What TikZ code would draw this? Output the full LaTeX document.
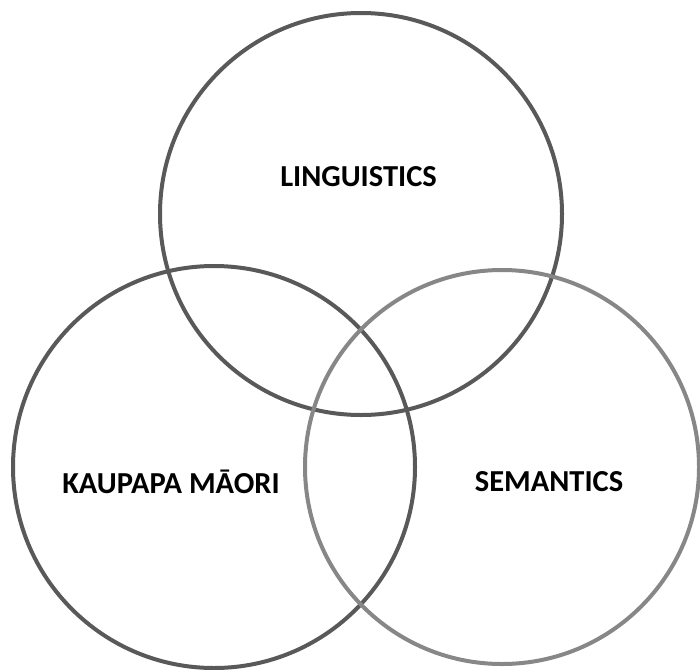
\documentclass[tikz,border=0pt]{standalone}
\usepackage{fontspec}
\setmainfont{Carlito}
\usetikzlibrary{positioning}

\definecolor{ringdark}{HTML}{595959}
\definecolor{ringlight}{HTML}{878787}

\begin{document}
\begin{tikzpicture}[
    x=1pt, y=-1pt,
    ring/.style={
        draw=ringdark,
        line width=4pt
    },
    setlabel/.style={
        font=\fontsize{30.5}{34}\selectfont\bfseries,
        text=black,
        inner sep=0pt
    }
]
    \useasboundingbox (0,0) rectangle (700,669);

    % Circles
    \node[ring, circle, minimum size=402pt, inner sep=0pt] (ling) at (361,214) {};
    \node[ring, circle, minimum size=402pt, inner sep=0pt] (kaup) at (214,467) {};
    \node[ring, circle, minimum size=394pt, inner sep=0pt, draw=ringlight] (sem) at (502,467) {};

    % Labels
    \node[setlabel] (linglabel) at (358.5,176.5) {LINGUISTICS};
    \node[setlabel] (kauplabel) at (171,481.5) {KAUPAPA MĀORI};
    \node[setlabel] (semlabel) at (549,481.5) {SEMANTICS};

\end{tikzpicture}
\end{document}
